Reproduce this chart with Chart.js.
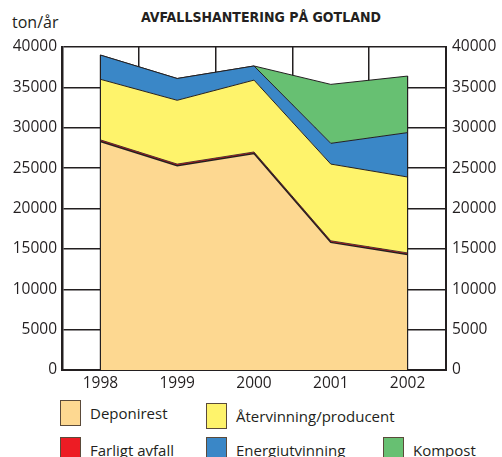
<!DOCTYPE html>
<html>
<head>
<meta charset="utf-8">
<script src="https://cdn.jsdelivr.net/npm/chart.js@4"></script>
<style>
  body { margin: 0; background: #fff; font-family: 'Open Sans', sans-serif; color: #231f20; }
  .wrap { position: relative; width: 502px; height: 457px; overflow: hidden; }
  .chart-box { position: absolute; left: 0; top: 0; width: 502px; height: 400px; }
  .title { position: absolute; left: 0; width: 522px; top: 9px; text-align: center;
    font-family: 'DejaVu Sans Condensed', 'DejaVu Sans', sans-serif; font-weight: bold;
    font-size: 14px; }
  .unit { position: absolute; left: 12px; top: 11px; font-size: 16px; }
  .legend-item { position: absolute; display: flex; align-items: center; font-size: 15px; }
  .legend-item__box { width: 19px; height: 24px; border: 1px solid #5a4a3a; margin-right: 9px; }
</style>
</head>
<body>
<div class="wrap">
  <div class="unit">ton/år</div>
  <div class="title">AVFALLSHANTERING PÅ GOTLAND</div>
  <div class="chart-box"><canvas id="c" width="502" height="400"></canvas></div>
  <div id="legend"></div>
</div>
<script>
const years = ['1998', '1999', '2000', '2001', '2002']
const deponirest = [28300, 25300, 26800, 15800, 14300]
const farligtAvfall = [200, 200, 200, 200, 200]
const atervinning = [7500, 7900, 8900, 9500, 9400]
const energiutvinning = [3000, 2700, 1750, 2570, 5500]
const kompost = [0, 0, 0, 7300, 7000]
const yTicks = [0, 5000, 10000, 15000, 20000, 25000, 30000, 35000, 40000]

const legendItems = [
  { label: 'Deponirest', color: '#fdd891', x: 60, y: 400 },
  { label: 'Återvinning/producent', color: '#fef36b', x: 206, y: 403 },
  { label: 'Farligt avfall', color: '#ed1c24', x: 60, y: 437 },
  { label: 'Energiutvinning', color: '#3a87c7', x: 206, y: 437 },
  { label: 'Kompost', color: '#67c072', x: 383, y: 437 },
]

const legendEl = document.getElementById('legend')
legendItems.forEach((item) => {
  const el = document.createElement('div')
  el.className = 'legend-item'
  el.style.left = item.x + 'px'
  el.style.top = item.y + 'px'
  el.innerHTML = `<span class="legend-item__box" style="background:${item.color}"></span><span>${item.label}</span>`
  legendEl.appendChild(el)
})

const ink = '#231f20'
const tickFont = { family: 'Open Sans, sans-serif', size: 15.5 }

const area = (label, data, color, fill, borderWidth = 1) => ({
  label,
  data,
  backgroundColor: color,
  borderColor: ink,
  borderWidth,
  fill,
  pointRadius: 0,
  tension: 0,
})

// vertical outline at the first and last year, like the printed chart
const edgeLines = {
  id: 'edgeLines',
  afterDatasetsDraw(chart) {
    const { ctx, scales } = chart
    const totals = years.map((_, i) =>
      chart.data.datasets.reduce((s, d) => s + d.data[i], 0))
    ctx.save()
    ctx.strokeStyle = ink
    ctx.lineWidth = 1.2
    ;[0, years.length - 1].forEach((i) => {
      const x = scales.x.getPixelForValue(i)
      ctx.beginPath()
      ctx.moveTo(x, scales.y.getPixelForValue(0))
      ctx.lineTo(x, scales.y.getPixelForValue(totals[i]))
      ctx.stroke()
    })
    ctx.restore()
  },
}

const plainTick = (v) => String(v)

new Chart(document.getElementById('c'), {
  type: 'line',
  data: {
    labels: years,
    datasets: [
      area('Deponirest', deponirest, '#fdd891', 'origin', 1.5),
      area('Farligt avfall', farligtAvfall, '#ed1c24', '-1', 0.8),
      area('Återvinning/producent', atervinning, '#fef36b', '-1'),
      area('Energiutvinning', energiutvinning, '#3a87c7', '-1'),
      area('Kompost', kompost, '#67c072', '-1'),
    ],
  },
  plugins: [edgeLines],
  options: {
    responsive: false,
    animation: false,
    layout: { padding: { top: 47, left: 0, right: 0, bottom: 0 } },
    plugins: { legend: { display: false }, tooltip: { enabled: false } },
    scales: {
      x: {
        offset: true,
        grid: { offset: true, color: ink, lineWidth: 1.5, drawTicks: false },
        border: { color: ink, width: 2 },
        ticks: { color: ink, font: tickFont, padding: 4, maxRotation: 0 },
        afterFit: (s) => { s.height = 30 },
      },
      y: {
        stacked: true,
        min: 0,
        max: 40000,
        afterBuildTicks: (s) => { s.ticks = yTicks.map((v) => ({ value: v })) },
        grid: { color: ink, lineWidth: 1.5, drawTicks: false },
        border: { color: ink, width: 2.5 },
        ticks: { color: ink, font: tickFont, padding: 5, callback: plainTick },
        afterFit: (s) => { s.width = 62 },
      },
      y2: {
        position: 'right',
        min: 0,
        max: 40000,
        afterBuildTicks: (s) => { s.ticks = yTicks.map((v) => ({ value: v })) },
        grid: { display: false, drawTicks: false },
        border: { color: ink, width: 2 },
        ticks: { color: ink, font: tickFont, padding: 6, callback: plainTick },
        afterFit: (s) => { s.width = 56 },
      },
    },
  },
})
</script>
</body>
</html>
